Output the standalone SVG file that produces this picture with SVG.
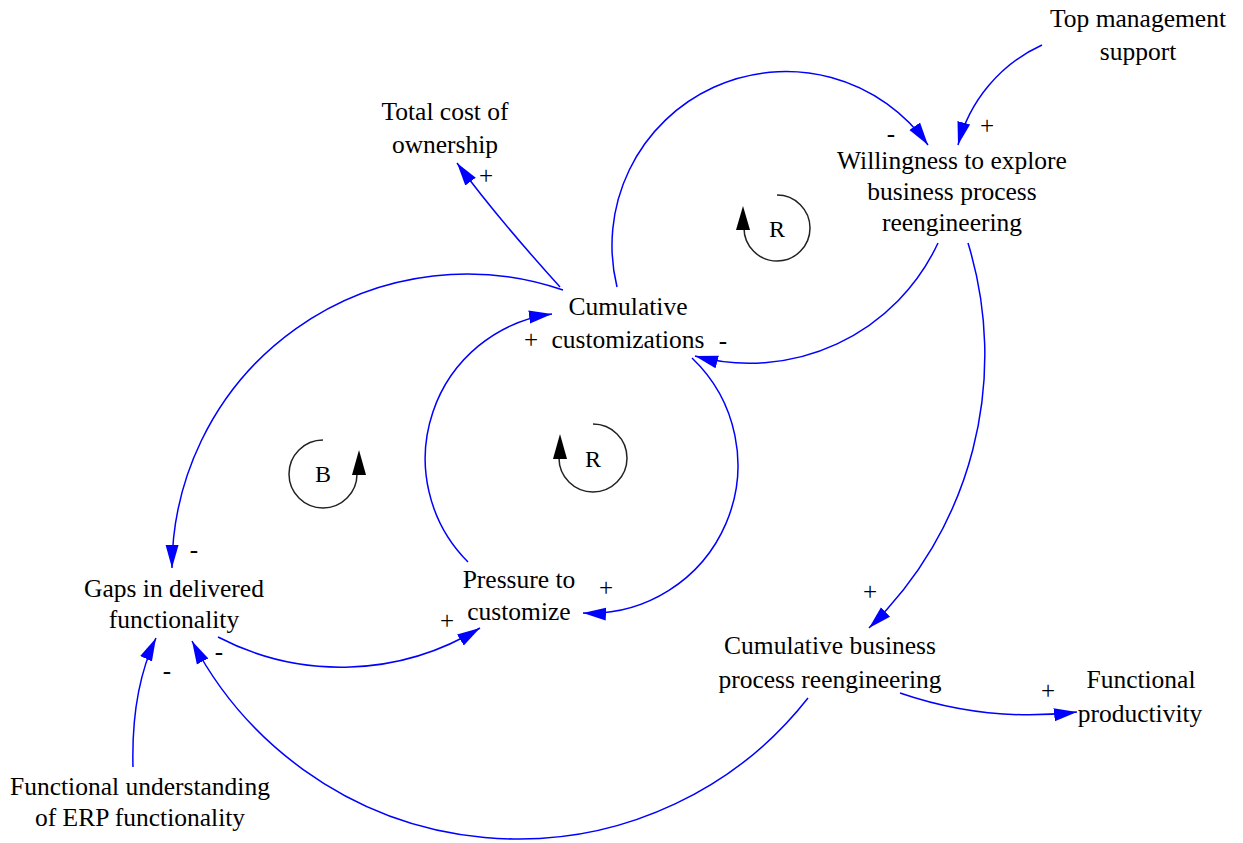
<svg xmlns="http://www.w3.org/2000/svg" width="1243" height="843" viewBox="0 0 1243 843" font-family="Liberation Serif, Times New Roman, Times, serif">
<defs>
<style>
.lbl{font-size:25.5px;fill:#000;text-anchor:middle}
.pol{font-size:25px;fill:#000;text-anchor:middle}
.lp{font-size:24px;fill:#000;text-anchor:middle}
.cn{fill:none;stroke:#0000FF;stroke-width:1.5;marker-end:url(#ah)}
.loop{fill:none;stroke:#222;stroke-width:1.5}
.lah{fill:#000}
</style>
<marker id="ah" markerUnits="userSpaceOnUse" markerWidth="24" markerHeight="16" viewBox="0 0 24 16" refX="23" refY="8" orient="auto">
<path d="M0,1.5 L23,8 L0,14.5 z" fill="#0000FF"/>
</marker>
</defs>
<rect width="1243" height="843" fill="#fff"/>

<g id="connectors">
<path class="cn" d="M1042,45 A152,152 0 0,0 958,145"/>
<path class="cn" d="M617,287 A174,174 0 0,1 928,145"/>
<path class="cn" d="M938,243 A208,208 0 0,1 695,356"/>
<path class="cn" d="M968,243 A380,380 0 0,1 869,628"/>
<path class="cn" d="M560,287 Q495,215 457,163"/>
<path class="cn" d="M563,290 A295,295 0 0,0 172,568"/>
<path class="cn" d="M468,562 A146,146 0 0,1 552,314"/>
<path class="cn" d="M692,358 A148,148 0 0,1 583,613"/>
<path class="cn" d="M218,637 A266,266 0 0,0 480,628"/>
<path class="cn" d="M133,767 Q131,690 156,638"/>
<path class="cn" d="M808,698 A368,368 0 0,1 192,641"/>
<path class="cn" d="M900,693 A400,400 0 0,0 1077,712"/>
</g>

<g id="polarities">
<text class="pol" x="987" y="134">+</text>
<text class="pol" x="891" y="142" font-size="22">-</text>
<text class="pol" x="486" y="184">+</text>
<text class="pol" x="531" y="348">+</text>
<text class="pol" x="723" y="349">-</text>
<text class="pol" x="606" y="596">+</text>
<text class="pol" x="194" y="558">-</text>
<text class="pol" x="447" y="629">+</text>
<text class="pol" x="219" y="660">-</text>
<text class="pol" x="167" y="679">-</text>
<text class="pol" x="870" y="600">+</text>
<text class="pol" x="1048" y="699">+</text>
</g>

<g id="loop-R1">
<path class="loop" d="M777,195 A33,33 0 1,1 744,228"/>
<polygon class="lah" points="743,206 736,230 750,230"/>
<text class="lp" x="777" y="237">R</text>
</g>
<g id="loop-B">
<path class="loop" d="M323,440 A34,34 0 1,0 357,474"/>
<polygon class="lah" points="359,450 352,475 366,475"/>
<text class="lp" x="323" y="482">B</text>
</g>
<g id="loop-R2">
<path class="loop" d="M593,424 A34,34 0 1,1 559,458"/>
<polygon class="lah" points="560,434 553,459 567,459"/>
<text class="lp" x="593" y="467">R</text>
</g>

<g id="top-management-support">
<text class="lbl" x="1138" y="27">Top management</text>
<text class="lbl" x="1138" y="60">support</text>
</g>
<g id="willingness">
<text class="lbl" x="952" y="169">Willingness to explore</text>
<text class="lbl" x="952" y="200">business process</text>
<text class="lbl" x="952" y="231">reengineering</text>
</g>
<g id="total-cost">
<text class="lbl" x="445" y="120">Total cost of</text>
<text class="lbl" x="445" y="153">ownership</text>
</g>
<g id="cumulative-customizations">
<text class="lbl" x="628" y="315">Cumulative</text>
<text class="lbl" x="628" y="348">customizations</text>
</g>
<g id="pressure-to-customize">
<text class="lbl" x="519" y="588">Pressure to</text>
<text class="lbl" x="519" y="620">customize</text>
</g>
<g id="gaps">
<text class="lbl" x="174" y="597">Gaps in delivered</text>
<text class="lbl" x="174" y="628">functionality</text>
</g>
<g id="cumulative-bpr">
<text class="lbl" x="830" y="654">Cumulative business</text>
<text class="lbl" x="830" y="688">process reengineering</text>
</g>
<g id="functional-productivity">
<text class="lbl" x="1141" y="688">Functional</text>
<text class="lbl" x="1140" y="722">productivity</text>
</g>
<g id="functional-understanding">
<text class="lbl" x="140" y="795">Functional understanding</text>
<text class="lbl" x="140" y="826">of ERP functionality</text>
</g>
</svg>
